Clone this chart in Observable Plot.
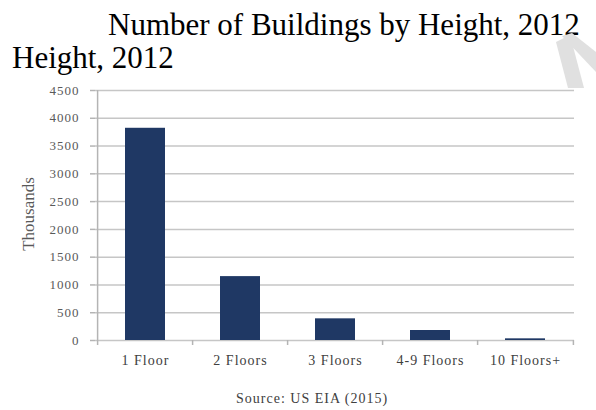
<!DOCTYPE html>
<html>
<head>
<meta charset="utf-8">
<script src="https://cdn.jsdelivr.net/npm/d3@7"></script>
<script src="https://cdn.jsdelivr.net/npm/@observablehq/plot@0.6"></script>
<style>
  html, body { margin: 0; padding: 0; background: #fff; }
  body { width: 596px; height: 410px; position: relative; overflow: hidden;
         font-family: "Liberation Serif", "Times New Roman", serif; }
  .title { position: absolute; font-size: 31px; line-height: 31px; color: #000; white-space: nowrap; }
  #chart { position: absolute; left: 0; top: 80px; }
  #chart svg text { font-family: "Liberation Serif", "Times New Roman", serif; letter-spacing: 1px; }
  #ylabel { position: absolute; left: 27.5px; top: 214px; font-size: 17px; line-height: 17px;
            color: #595959; white-space: nowrap; transform: translate(-50%, -50%) rotate(-90deg); }
  #source { position: absolute; left: 236px; top: 392px; font-size: 14px; line-height: 14px;
            color: #404040; letter-spacing: 1px; white-space: nowrap; }
  #wm { position: absolute; left: 0; top: 0; }
</style>
</head>
<body>
<div class="title" style="left:108px; top:9px;">Number of Buildings by Height, 2012</div>
<div class="title" style="left:12px; top:42px;">Height, 2012</div>
<svg id="wm" width="596" height="100">
  <polygon points="556,42 570,35 584,88 568,88" fill="#e0e0e0"/>
  <polygon points="562,36 572,33 596,52 596,72" fill="#e0e0e0"/>
</svg>
<div id="chart"></div>
<div id="ylabel">Thousands</div>
<div id="source">Source: US EIA (2015)</div>
<script>
const categories = ["1 Floor", "2 Floors", "3 Floors", "4-9 Floors", "10 Floors+"];
const values = [3820, 1150, 390, 180, 30];
const yTicks = [0, 500, 1000, 1500, 2000, 2500, 3000, 3500, 4000, 4500];

const data = categories.map((c, i) => ({category: c, value: values[i]}));

const W = 596, H = 330, mL = 95, mR = 22;
const step = (W - mL - mR) / categories.length;
const axisGrey = "#b4b4b4";
const serif = "Liberation Serif, Times New Roman, serif";

const chart = Plot.plot({
  width: W,
  height: H,
  marginTop: 10,
  marginBottom: 70,
  marginLeft: mL,
  marginRight: mR,
  style: {
    fontFamily: serif,
    fontSize: "13px",
    background: "transparent",
    overflow: "visible"
  },
  x: {domain: categories, paddingInner: 0.58, paddingOuter: 0.29, label: null},
  y: {domain: [0, 4500], label: null},
  marks: [
    Plot.ruleY(yTicks, {stroke: "#c6c6c6", strokeWidth: 1.5}),
    Plot.ruleX([categories[0]], {dx: -step / 2, stroke: axisGrey, strokeWidth: 1.5}),
    Plot.barY(data, {x: "category", y: "value", fill: "#1f3864"}),
    Plot.axisY({ticks: yTicks, tickSize: 5, tickPadding: 11, stroke: axisGrey, strokeWidth: 1.5,
                tickFormat: d => String(d), color: "#595959", fontSize: 13, fontFamily: serif, label: null}),
    Plot.axisX({tickSize: 0, tickPadding: 15, color: "#404040", fontSize: 14, fontFamily: serif, label: null}),
    Plot.axisX({ticks: categories, tickSize: 5, dx: -step / 2, stroke: axisGrey, strokeWidth: 1.5,
                tickFormat: () => "", label: null}),
    Plot.axisX({ticks: [categories[categories.length - 1]], tickSize: 5, dx: step / 2, stroke: axisGrey,
                strokeWidth: 1.5, tickFormat: () => "", label: null})
  ]
});
document.getElementById("chart").appendChild(chart);
</script>
</body>
</html>
